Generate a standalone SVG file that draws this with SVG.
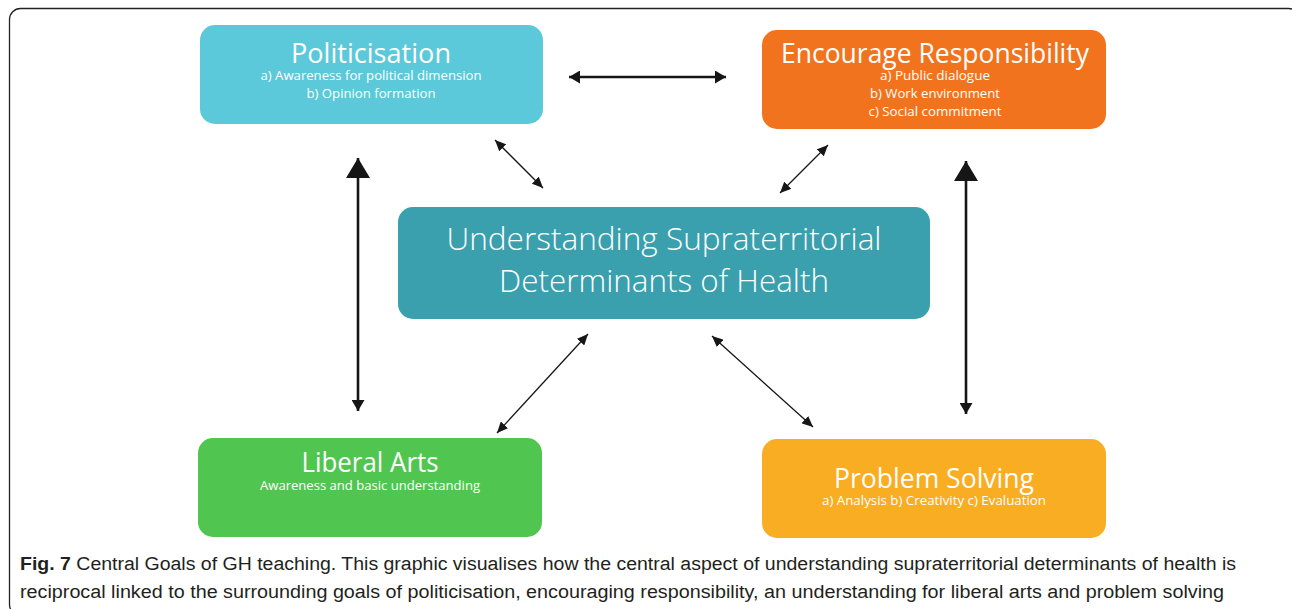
<svg xmlns="http://www.w3.org/2000/svg" width="1292" height="609" viewBox="0 0 1292 609">
<style>
.t{font-family:"Open Sans","Liberation Sans",sans-serif;fill:#ffffff;text-anchor:middle}
.h{font-size:27px}
.s{font-size:13px}
.c{font-size:32px;font-weight:300}
.cap{font-family:"Liberation Sans Narrow","Liberation Sans",sans-serif;font-size:18px;fill:#231f20}
.thick{stroke:#161616;stroke-width:2.6;fill:none}
.thin{stroke:#161616;stroke-width:1.3;fill:none}
</style>
<defs>
<marker id="hBig" viewBox="0 0 10 10" refX="10" refY="5" markerUnits="userSpaceOnUse" markerWidth="20" markerHeight="24" orient="auto-start-reverse" preserveAspectRatio="none"><path d="M0,0 L10,5 L0,10 z" fill="#161616"/></marker>
<marker id="hMed" viewBox="0 0 10 10" refX="10" refY="5" markerUnits="userSpaceOnUse" markerWidth="11" markerHeight="13" orient="auto-start-reverse" preserveAspectRatio="none"><path d="M0,0 L10,5 L0,10 z" fill="#161616"/></marker>
<marker id="hSm" viewBox="0 0 10 10" refX="10" refY="5" markerUnits="userSpaceOnUse" markerWidth="11" markerHeight="10" orient="auto-start-reverse" preserveAspectRatio="none"><path d="M0,0 L10,5 L0,10 z" fill="#161616"/></marker>
</defs>
<rect x="0" y="0" width="1292" height="609" fill="#ffffff"/>
<rect id="frame" x="9.5" y="8.5" width="1290" height="607" rx="11" fill="none" stroke="#222" stroke-width="1.3"/>

<g id="connectors">
<line class="thick" x1="569" y1="77" x2="726" y2="77" marker-start="url(#hMed)" marker-end="url(#hMed)"/>
<line class="thick" x1="358" y1="158" x2="358" y2="411" marker-start="url(#hBig)" marker-end="url(#hMed)"/>
<line class="thick" x1="966" y1="161" x2="966" y2="414" marker-start="url(#hBig)" marker-end="url(#hMed)"/>
<line class="thin" x1="495" y1="140" x2="543" y2="188" marker-start="url(#hSm)" marker-end="url(#hSm)"/>
<line class="thin" x1="828" y1="145" x2="780" y2="193" marker-start="url(#hSm)" marker-end="url(#hSm)"/>
<line class="thin" x1="588" y1="334" x2="497" y2="433" marker-start="url(#hSm)" marker-end="url(#hSm)"/>
<line class="thin" x1="712" y1="336" x2="813" y2="427" marker-start="url(#hSm)" marker-end="url(#hSm)"/>
</g>

<g id="politicisation">
<rect x="200" y="25" width="343" height="99" rx="15" fill="#5bc9d9"/>
<text class="t h" x="371" y="63" textLength="160" lengthAdjust="spacingAndGlyphs">Politicisation</text>
<text class="t s" x="371" y="80" textLength="221" lengthAdjust="spacingAndGlyphs">a) Awareness for political dimension</text>
<text class="t s" x="371" y="98" textLength="129" lengthAdjust="spacingAndGlyphs">b) Opinion formation</text>
</g>

<g id="responsibility">
<rect x="762" y="30" width="344" height="99" rx="15" fill="#f2731d"/>
<text class="t h" x="935" y="63" textLength="308" lengthAdjust="spacingAndGlyphs">Encourage Responsibility</text>
<text class="t s" x="935" y="80" textLength="110" lengthAdjust="spacingAndGlyphs">a) Public dialogue</text>
<text class="t s" x="935" y="98" textLength="130" lengthAdjust="spacingAndGlyphs">b) Work environment</text>
<text class="t s" x="935" y="116" textLength="133" lengthAdjust="spacingAndGlyphs">c) Social commitment</text>
</g>

<g id="center">
<rect x="398" y="207" width="532" height="112" rx="15" fill="#3aa0ae"/>
<text class="t c" x="664" y="250" textLength="435" lengthAdjust="spacingAndGlyphs">Understanding Supraterritorial</text>
<text class="t c" x="664" y="292" textLength="330" lengthAdjust="spacingAndGlyphs">Determinants of Health</text>
</g>

<g id="liberal">
<rect x="198" y="438" width="344" height="99" rx="15" fill="#50c650"/>
<text class="t h" x="370" y="472" textLength="137" lengthAdjust="spacingAndGlyphs">Liberal Arts</text>
<text class="t s" x="370" y="490" textLength="220" lengthAdjust="spacingAndGlyphs">Awareness and basic understanding</text>
</g>

<g id="problem">
<rect x="762" y="439" width="344" height="99" rx="15" fill="#f9ad22"/>
<text class="t h" x="934" y="488" textLength="200" lengthAdjust="spacingAndGlyphs">Problem Solving</text>
<text class="t s" x="934" y="505" textLength="224" lengthAdjust="spacingAndGlyphs">a) Analysis b) Creativity c) Evaluation</text>
</g>

<g id="caption">
<text class="cap" x="20" y="570" textLength="1216" lengthAdjust="spacingAndGlyphs"><tspan font-weight="bold">Fig. 7</tspan> Central Goals of GH teaching. This graphic visualises how the central aspect of understanding supraterritorial determinants of health is</text>
<text class="cap" x="20" y="598" textLength="1204" lengthAdjust="spacingAndGlyphs">reciprocal linked to the surrounding goals of politicisation, encouraging responsibility, an understanding for liberal arts and problem solving</text>
</g>
</svg>
